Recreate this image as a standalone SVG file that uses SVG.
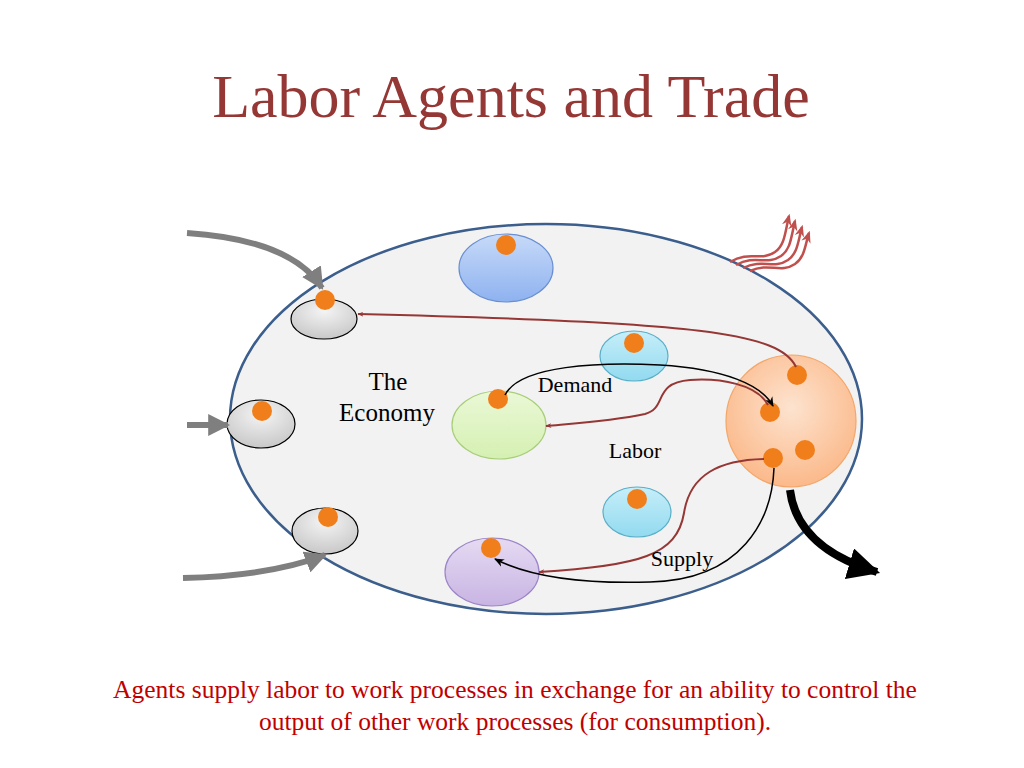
<svg xmlns="http://www.w3.org/2000/svg" width="1024" height="768" viewBox="0 0 1024 768">
<defs>
<style>
.t{font-family:"Liberation Serif","Times New Roman",serif;fill:#000}
.node{stroke-width:1.2}
.dot{fill:#F07F1B}
.red{fill:none;stroke:#953735;stroke-width:2}
.blk{fill:none;stroke:#000;stroke-width:1.5}
.gray{fill:none;stroke:#7F7F7F;stroke-width:6}
.wave{fill:none;stroke:#C0504D;stroke-width:2.5}
</style>
<marker id="ar" viewBox="0 0 10 10" refX="9" refY="5" markerWidth="6" markerHeight="6" orient="auto" markerUnits="userSpaceOnUse">
<path d="M0,1 L10,5 L0,9 L3,5 z" fill="#953735"/>
</marker>
<marker id="ab" viewBox="0 0 10 10" refX="9" refY="5" markerWidth="10" markerHeight="10" orient="auto" markerUnits="userSpaceOnUse">
<path d="M0,1 L10,5 L0,9 L3,5 z" fill="#000"/>
</marker>
<marker id="ag" viewBox="0 0 10 10" refX="9" refY="5" markerWidth="22" markerHeight="22" orient="auto" markerUnits="userSpaceOnUse">
<path d="M0,0 L10,5 L0,10 z" fill="#7F7F7F"/>
</marker>
<marker id="abig" viewBox="0 0 10 10" refX="9" refY="5" markerWidth="32" markerHeight="32" orient="auto" markerUnits="userSpaceOnUse">
<path d="M0,0 L10,5 L0,10 z" fill="#000"/>
</marker>
<marker id="aw" viewBox="0 0 10 10" refX="8" refY="5" markerWidth="12" markerHeight="12" orient="auto" markerUnits="userSpaceOnUse">
<path d="M0,1 L10,5 L0,9 L3,5 z" fill="#C0504D"/>
</marker>
<radialGradient id="gg" cx="50%" cy="30%" r="70%">
<stop offset="0" stop-color="#F4F4F4"/><stop offset="1" stop-color="#C8C8C8"/>
</radialGradient>
<radialGradient id="og" cx="50%" cy="40%" r="60%">
<stop offset="0" stop-color="#FDE3CF"/><stop offset="1" stop-color="#FBB98A"/>
</radialGradient>
<linearGradient id="bg" x1="0" y1="0" x2="0" y2="1">
<stop offset="0" stop-color="#C7DAF8"/><stop offset="1" stop-color="#8EB2F0"/>
</linearGradient>
<linearGradient id="cg" x1="0" y1="0" x2="0" y2="1">
<stop offset="0" stop-color="#C6EEF9"/><stop offset="1" stop-color="#92DAF0"/>
</linearGradient>
<linearGradient id="grg" x1="0" y1="0" x2="0" y2="1">
<stop offset="0" stop-color="#EAF8D6"/><stop offset="1" stop-color="#D5F0B2"/>
</linearGradient>
<linearGradient id="pg" x1="0" y1="0" x2="0" y2="1">
<stop offset="0" stop-color="#E5DAF2"/><stop offset="1" stop-color="#C8B4E3"/>
</linearGradient>
</defs>
<rect width="1024" height="768" fill="#fff"/>
<text x="511" y="117" text-anchor="middle" font-family="Liberation Serif, Times New Roman, serif" font-size="62" fill="#953735">Labor Agents and Trade</text>

<g id="economy">
<ellipse cx="546" cy="419" rx="316" ry="195" fill="#F2F2F2" stroke="#3B5E8C" stroke-width="2.5"/>
<text class="t" x="388" y="390" font-size="25" text-anchor="middle">The</text>
<text class="t" x="387" y="421" font-size="25" text-anchor="middle">Economy</text>
</g>

<g id="waves">
<path class="wave" d="M730,262 C750,250 760,262 775,252 C785,245 785,232 789,216" marker-end="url(#aw)"/>
<path class="wave" d="M736,265 C756,254 766,266 781,256 C791,249 791,237 795,221" marker-end="url(#aw)"/>
<path class="wave" d="M743,268 C763,258 773,270 788,260 C798,253 798,241 802,227" marker-end="url(#aw)"/>
<path class="wave" d="M750,271 C770,262 780,274 795,264 C805,257 805,245 809,233" marker-end="url(#aw)"/>
</g>

<g id="gray1"><ellipse class="node" cx="324" cy="319" rx="33" ry="20" fill="url(#gg)" stroke="#000"/><circle class="dot" cx="325" cy="300" r="10"/></g>
<g id="gray2"><ellipse class="node" cx="261" cy="424" rx="34" ry="24" fill="url(#gg)" stroke="#000"/><circle class="dot" cx="262" cy="411" r="10"/></g>
<g id="gray3"><ellipse class="node" cx="325" cy="531" rx="33" ry="23" fill="url(#gg)" stroke="#000"/><circle class="dot" cx="328" cy="517" r="10"/></g>
<g id="blue"><ellipse class="node" cx="506" cy="268" rx="47" ry="34" fill="url(#bg)" stroke="#6A8FD0"/><circle class="dot" cx="506" cy="245" r="10"/></g>
<g id="cyan1"><ellipse class="node" cx="634" cy="356" rx="34" ry="25" fill="url(#cg)" stroke="#5AAFC8"/><circle class="dot" cx="634" cy="343" r="10"/></g>
<g id="green"><ellipse class="node" cx="499" cy="425" rx="47" ry="34" fill="url(#grg)" stroke="#A8CE7A"/><circle class="dot" cx="498" cy="399" r="10"/></g>
<g id="cyan2"><ellipse class="node" cx="637" cy="512" rx="34" ry="25" fill="url(#cg)" stroke="#5AAFC8"/><circle class="dot" cx="637" cy="499" r="10"/></g>
<g id="purple"><ellipse class="node" cx="492" cy="572" rx="47" ry="34" fill="url(#pg)" stroke="#9C85C8"/><circle class="dot" cx="491" cy="548" r="10"/></g>
<g id="orange"><ellipse class="node" cx="791" cy="421" rx="65" ry="66" fill="url(#og)" stroke="#F2A66A"/>
<circle class="dot" cx="797" cy="375" r="10"/><circle class="dot" cx="770" cy="412" r="10"/><circle class="dot" cx="773" cy="458" r="10"/><circle class="dot" cx="805" cy="450" r="10"/></g>

<g id="connectors">
<path class="gray" d="M187,233 Q292,240 322,288" marker-end="url(#ag)"/>
<path class="gray" d="M187,425 L228,425" marker-end="url(#ag)"/>
<path class="gray" d="M183,578 Q270,576 325,555" marker-end="url(#ag)"/>
<path fill="none" stroke="#000" stroke-width="8" d="M790,490 Q797,548 877,572" marker-end="url(#abig)"/>
<path class="red" d="M796,367 C780,333 700,322 358,314" marker-end="url(#ar)"/>
<path class="blk" d="M505,395 C520,365 600,362 660,365 C725,369 762,385 773,406" marker-end="url(#ab)"/>
<path class="red" d="M768,405 C757,384 720,378 690,380 C652,383 668,408 645,414 C612,421 580,423 546,426" marker-end="url(#ar)"/>
<path class="red" d="M764,459 C720,460 690,474 684,513 C677,555 640,566 539,572" marker-end="url(#ar)"/>
<path class="blk" d="M774,468 C772,520 742,580 650,582 C585,584 530,577 495,559" marker-end="url(#ab)"/>
</g>

<g id="labels">
<text class="t" x="575" y="392" font-size="22" text-anchor="middle">Demand</text>
<text class="t" x="635" y="458" font-size="22" text-anchor="middle">Labor</text>
<text class="t" x="682" y="566" font-size="22" text-anchor="middle">Supply</text>
</g>

<g id="caption" font-family="Liberation Serif, Times New Roman, serif" font-size="25.5" fill="#C00000" text-anchor="middle">
<text x="515" y="698">Agents supply labor to work processes in exchange for an ability to control the</text>
<text x="515" y="730">output of other work processes (for consumption).</text>
</g>
</svg>
